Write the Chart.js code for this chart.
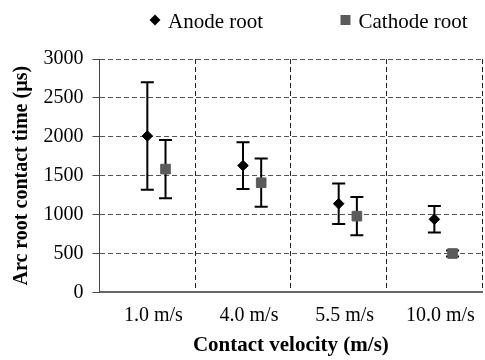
<!DOCTYPE html>
<html>
<head>
<meta charset="utf-8">
<script src="https://cdn.jsdelivr.net/npm/chart.js@4.4.1/dist/chart.umd.min.js"></script>
<style>
    html, body { margin: 0; padding: 0; background: #fff; overflow: hidden; }
    #wrap { width: 490px; height: 360px; }
</style>
</head>
<body>
<div id="wrap"><canvas id="arcChart"></canvas></div>
<script>
// Data
const categories = ['1.0 m/s', '4.0 m/s', '5.5 m/s', '10.0 m/s'];
const anodeMean = [2010, 1630, 1140, 940];
const anodeErr = [690, 300, 260, 170];
const cathodeMean = [1585, 1410, 980, 500];
const cathodeErr = [375, 310, 245, 40];
const yTicks = [0, 500, 1000, 1500, 2000, 2500, 3000];

const serif = "'Liberation Serif', 'Times New Roman', serif";
const cathodeShift = 0.19; // cathode marker sits right of the category centre

function toPoints(values, shift) {
    return values.map((v, i) => ({ x: i + 0.5 + shift, y: v }));
}

// vertical error bars with caps, drawn under the markers
const errorBars = {
    id: 'errorBars',
    beforeDatasetsDraw(chart) {
        const ctx = chart.ctx;
        const yScale = chart.scales.y;
        ctx.save();
        ctx.strokeStyle = '#000';
        ctx.lineWidth = 2;
        chart.data.datasets.forEach((ds, i) => {
            const meta = chart.getDatasetMeta(i);
            meta.data.forEach((pt, j) => {
                const mean = ds.data[j].y;
                const top = yScale.getPixelForValue(mean + ds.errors[j]);
                const bot = yScale.getPixelForValue(mean - ds.errors[j]);
                ctx.beginPath();
                ctx.moveTo(pt.x, top);
                ctx.lineTo(pt.x, bot);
                ctx.moveTo(pt.x - 6.5, top);
                ctx.lineTo(pt.x + 6.5, top);
                ctx.moveTo(pt.x - 6.5, bot);
                ctx.lineTo(pt.x + 6.5, bot);
                ctx.stroke();
            });
        });
        ctx.restore();
    }
};

// legend at the top, items spaced wide apart like the original
const legendX = [155, 345.5];
const topLegend = {
    id: 'topLegend',
    afterDraw(chart) {
        const ctx = chart.ctx;
        ctx.save();
        ctx.font = '21px ' + serif;
        ctx.textBaseline = 'alphabetic';
        chart.data.datasets.forEach((ds, i) => {
            const cx = legendX[i];
            const cy = 20;
            ctx.fillStyle = ds.backgroundColor;
            ctx.beginPath();
            if (ds.pointStyle === 'rectRot') {
                ctx.moveTo(cx - 5.5, cy);
                ctx.lineTo(cx, cy - 5.5);
                ctx.lineTo(cx + 5.5, cy);
                ctx.lineTo(cx, cy + 5.5);
                ctx.closePath();
            } else {
                ctx.rect(cx - 5, cy - 5, 10, 10);
            }
            ctx.fill();
            ctx.fillStyle = '#000';
            ctx.fillText(ds.label, cx + 13, 27.5);
        });
        ctx.restore();
    }
};

const ctx = document.getElementById('arcChart').getContext('2d');

new Chart(ctx, {
    type: 'scatter',
    data: {
        labels: categories,
        datasets: [{
            label: 'Anode root',
            data: toPoints(anodeMean, 0),
            errors: anodeErr,
            xAxisID: 'xPos',
            pointStyle: 'rectRot',
            pointRadius: 5.3,
            pointHoverRadius: 5.3,
            backgroundColor: '#000',
            borderColor: '#000',
            borderWidth: 1
        }, {
            label: 'Cathode root',
            data: toPoints(cathodeMean, cathodeShift),
            errors: cathodeErr,
            xAxisID: 'xPos',
            pointStyle: 'rect',
            pointRadius: 6.8,
            pointHoverRadius: 6.8,
            backgroundColor: '#5b5b5b',
            borderColor: '#5b5b5b',
            borderWidth: 1
        }]
    },
    options: {
        responsive: true,
        maintainAspectRatio: false,
        animation: false,
        layout: {
            padding: { top: 59, left: 6, right: 2, bottom: 0 }
        },
        plugins: {
            legend: { display: false },
            tooltip: { enabled: false }
        },
        scales: {
            x: {
                type: 'category',
                labels: categories,
                offset: true,
                grid: {
                    offset: true,
                    color: '#222',
                    lineWidth: 1,
                    drawTicks: false
                },
                border: { color: '#666', width: 2, dash: [5, 3] },
                ticks: {
                    color: '#000',
                    padding: 11,
                    labelOffset: 6,
                    font: { family: serif, size: 20 }
                },
                title: {
                    display: true,
                    text: 'Contact velocity (m/s)',
                    color: '#000',
                    padding: { top: -5, bottom: 1.4 },
                    font: { family: serif, size: 21, weight: 'bold' }
                }
            },
            xPos: {
                type: 'linear',
                min: 0,
                max: 4,
                display: false
            },
            y: {
                min: 0,
                max: 3000,
                afterBuildTicks: scale => {
                    scale.ticks = yTicks.map(v => ({ value: v }));
                },
                grid: {
                    color: '#555',
                    lineWidth: 1,
                    tickLength: 7,
                    tickColor: '#444',
                    tickBorderDash: []
                },
                border: { color: '#444', width: 1, dash: [5, 3] },
                ticks: {
                    color: '#000',
                    padding: 9,
                    callback: value => String(value),
                    font: { family: serif, size: 20 }
                },
                title: {
                    display: true,
                    text: 'Arc root contact time (µs)',
                    color: '#000',
                    padding: { top: 4, bottom: 0.5 },
                    font: { family: serif, size: 20, weight: 'bold' }
                }
            }
        }
    },
    plugins: [errorBars, topLegend]
});
</script>
</body>
</html>
